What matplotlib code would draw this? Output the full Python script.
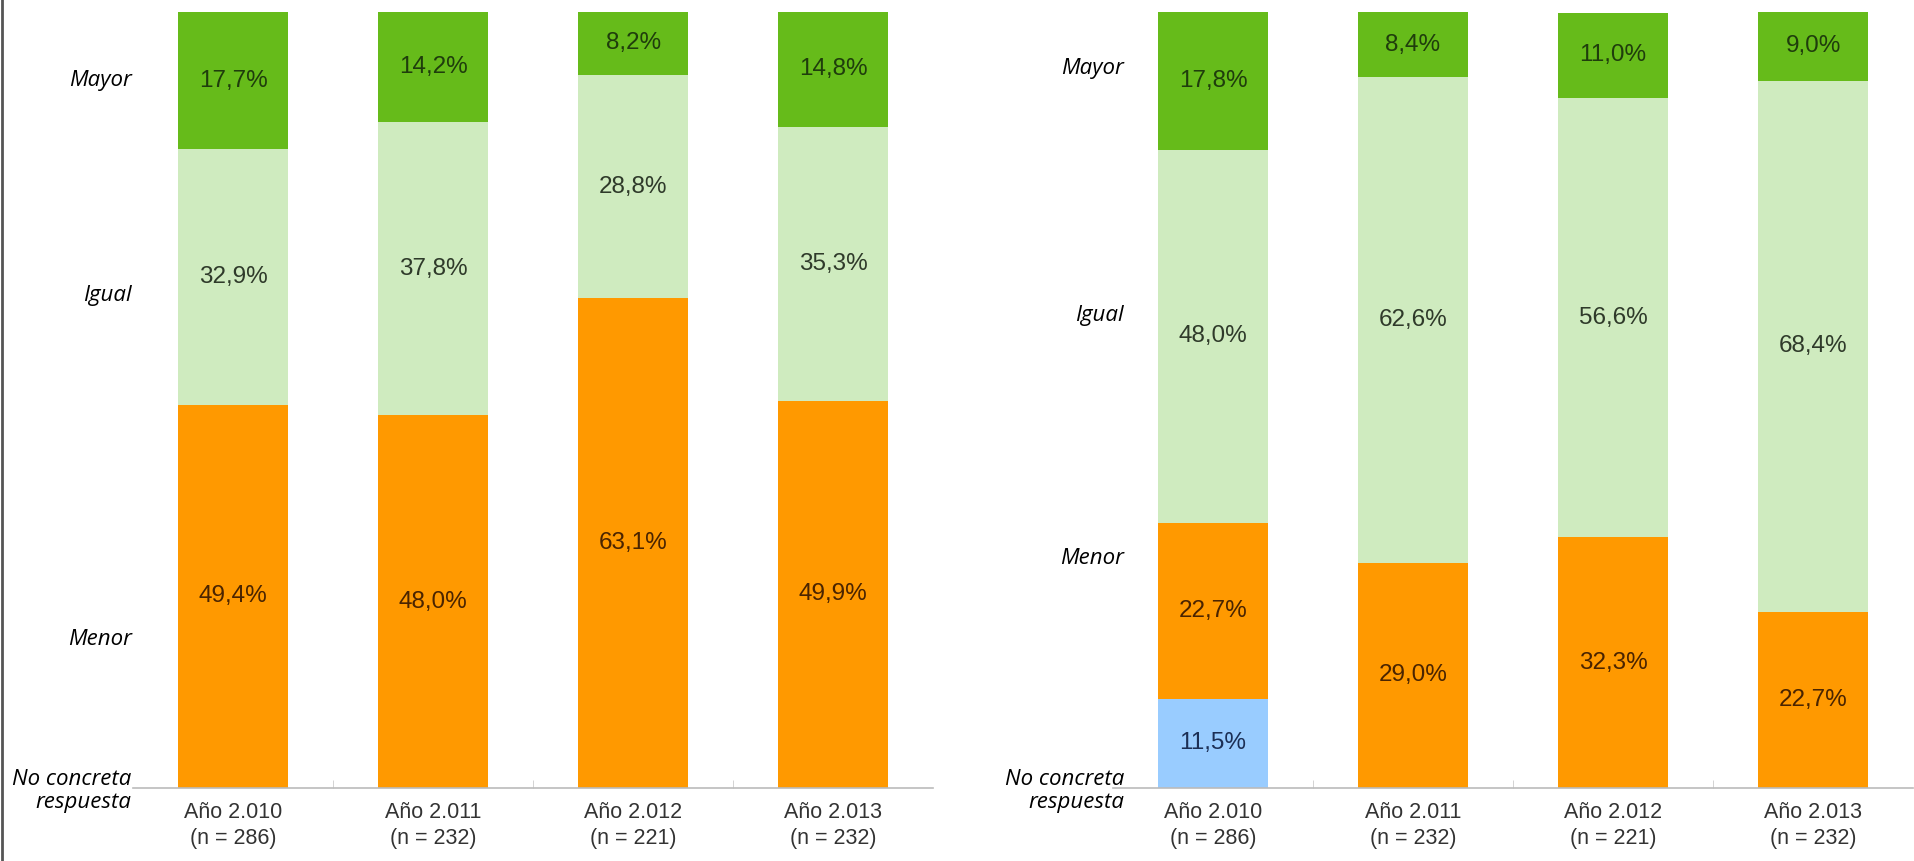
import matplotlib.pyplot as plt
import numpy as np

# Datos (porcentajes)
years = ['Año 2.010\n(n = 286)', 'Año 2.011\n(n = 232)', 'Año 2.012\n(n = 221)', 'Año 2.013\n(n = 232)']

left_no_resp = [0.0, 0.0, 0.0, 0.0]
left_menor = [49.4, 48.0, 63.1, 49.9]
left_igual = [32.9, 37.8, 28.8, 35.3]
left_mayor = [17.7, 14.2, 8.2, 14.8]

right_no_resp = [11.5, 0.0, 0.0, 0.0]
right_menor = [22.7, 29.0, 32.3, 22.7]
right_igual = [48.0, 62.6, 56.6, 68.4]
right_mayor = [17.8, 8.4, 11.0, 9.0]

cat_labels = ['No concreta\nrespuesta', 'Menor', 'Igual', 'Mayor']
left_label_pos = [0, 19.5, 63.8, 91.5]
right_label_pos = [0, 29.9, 61.2, 93.0]

colors = ['#99ccff', '#ff9900', '#cfebbf', '#66bb1a']
text_colors = ['#1c2f55', '#4a2400', '#2f3a2a', '#1f3d0c']


def draw_panel(ax, series, label_pos, ypad):
    x = np.arange(len(years))
    bottom = np.zeros(len(years))
    for vals, col, tcol in zip(series, colors, text_colors):
        vals = np.array(vals)
        ax.bar(x, vals, 0.55, bottom=bottom, color=col, linewidth=0)
        for xi, v, b in zip(x, vals, bottom):
            if v > 0:
                ax.text(xi, b + v / 2, f'{v:.1f}%'.replace('.', ','), ha='center', va='center',
                        fontsize=17.5, color=tcol, family='Liberation Sans')
        bottom = bottom + vals

    ax.set_xlim(-0.5, 3.5)
    ax.set_ylim(0, 100)
    ax.set_xticks(x)
    ax.set_xticklabels(years, fontsize=15.5, color='#333333', family='Liberation Sans', linespacing=1.3)
    ax.set_xticks([0.5, 1.5, 2.5], minor=True)
    ax.tick_params(axis='x', which='major', length=0, pad=10)
    ax.tick_params(axis='x', which='minor', direction='in', length=6, color='#cccccc')
    ax.set_yticks(label_pos)
    ax.set_yticklabels(cat_labels, fontsize=16, style='italic', family='Open Sans', linespacing=1.1)
    ax.tick_params(axis='y', length=0, pad=ypad)
    for s in ['top', 'right', 'left']:
        ax.spines[s].set_visible(False)
    ax.spines['bottom'].set_color('#bbbbbb')
    ax.spines['bottom'].set_linewidth(1.2)


fig = plt.figure(figsize=(19.15, 8.61), dpi=100)
ax1 = fig.add_axes([0.0695, 0.0848, 0.4178, 0.9013])
ax2 = fig.add_axes([0.5812, 0.0848, 0.4178, 0.9013])

draw_panel(ax1, [left_no_resp, left_menor, left_igual, left_mayor], left_label_pos, 1)
draw_panel(ax2, [right_no_resp, right_menor, right_igual, right_mayor], right_label_pos, -8)

fig.add_artist(plt.Line2D([0.0008, 0.0008], [0, 1], color='#555555', lw=2))

plt.savefig('out.png', dpi=100)
